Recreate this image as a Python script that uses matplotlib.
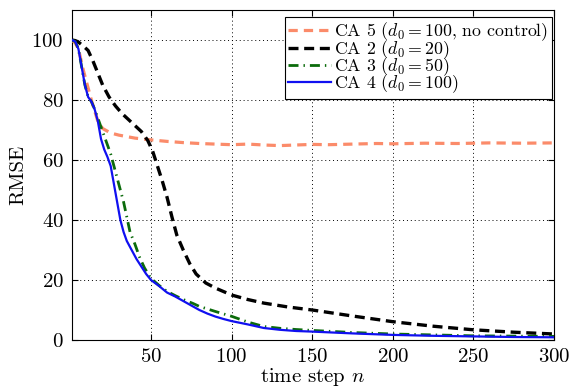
import matplotlib
matplotlib.use("Agg")
import matplotlib.pyplot as plt

plt.rcParams['font.family'] = ['cmr10', 'DejaVu Serif']
plt.rcParams['mathtext.fontset'] = 'cm'
plt.rcParams['axes.formatter.use_mathtext'] = True

# Data
n_ca5 = [1, 3, 5, 8, 10, 13, 15, 17, 20, 25, 30, 40, 50, 60, 70, 80, 90, 100, 110, 120, 130, 140, 150, 160, 175, 190, 200, 220, 240, 260, 280, 300]
y_ca5 = [100, 99, 97, 90, 86, 80, 76.5, 73, 70.5, 69, 68.3, 67.3, 66.7, 66.2, 65.8, 65.5, 65.3, 65.1, 65.3, 65.0, 64.8, 65.0, 65.2, 65.1, 65.3, 65.5, 65.4, 65.6, 65.5, 65.7, 65.6, 65.7]

n_ca2 = [1, 3, 5, 8, 11, 14, 17, 20, 24, 28, 32, 36, 40, 44, 48, 51, 54, 57, 60, 63, 66, 70, 74, 78, 84, 90, 100, 110, 120, 135, 150, 175, 200, 225, 250, 275, 300]
y_ca2 = [100, 99.8, 99.3, 98, 96.5, 93, 89, 85, 81, 78, 75.5, 73.5, 71.5, 69.5, 66.5, 63, 58, 53, 47.5, 41, 35, 30, 25.5, 22, 19, 17.3, 15, 13.5, 12.3, 11, 10, 8, 6.1, 4.6, 3.4, 2.6, 2.0]

n_ca3 = [1, 3, 5, 7, 9, 11, 13, 15, 17, 19, 21, 23, 25, 27, 29, 31, 33, 35, 37, 40, 43, 46, 50, 55, 60, 65, 70, 76, 80, 90, 100, 110, 120, 130, 140, 150, 175, 200, 225, 250, 275, 300]
y_ca3 = [100, 99.5, 97, 91, 85, 81, 79.5, 77, 74, 71, 68, 65, 62, 58, 54, 50, 46, 41, 36, 32, 27.5, 24, 20.5, 18.2, 16.2, 14.8, 13.5, 12.2, 11.2, 9.5, 7.9, 6.0, 4.5, 3.9, 3.5, 3.2, 2.5, 2.0, 1.7, 1.4, 1.3, 1.2]

n_ca4 = [1, 3, 5, 7, 9, 11, 13, 15, 17, 19, 21, 23, 25, 27, 29, 31, 33, 35, 38, 41, 44, 47, 50, 55, 60, 65, 70, 76, 80, 85, 90, 95, 100, 110, 120, 130, 140, 150, 175, 200, 225, 250, 275, 300]
y_ca4 = [100, 99.5, 97, 91, 85, 81, 79.5, 77, 73, 67, 63.5, 61, 58, 52, 46, 40, 36, 33, 30, 27, 24.5, 22, 20, 18, 15.8, 14.5, 13, 11.2, 10, 8.8, 7.8, 7, 6.3, 5.2, 4, 3.4, 3, 2.8, 2.2, 1.7, 1.4, 1.2, 1.0, 0.9]

labels = [r'CA 5 ($d_0 = 100$, no control)', r'CA 2 ($d_0 = 20$)',
          r'CA 3 ($d_0 = 50$)', r'CA 4 ($d_0 = 100$)']
xticks = [50, 100, 150, 200, 250, 300]
yticks = [0, 20, 40, 60, 80, 100]

fig = plt.figure(figsize=(5.72, 3.87), dpi=100)
ax = fig.add_axes([72/572, 47/387, (554-72)/572, (340-10)/387])

ax.plot(n_ca5, y_ca5, color='#FB8B6A', lw=2.3, dashes=(2.9, 1.9), label=labels[0], zorder=3)
ax.plot(n_ca2, y_ca2, color='black', lw=2.4, dashes=(3.0, 1.7), label=labels[1], zorder=4)
ax.plot(n_ca3, y_ca3, color='#0B6B0B', lw=2.0, dashes=(3.6, 1.8, 0.5, 1.8), label=labels[2], zorder=5)
ax.plot(n_ca4, y_ca4, color='#1010F0', lw=1.6, label=labels[3], zorder=6)

ax.set_xlim(1, 300)
ax.set_ylim(0, 110)
ax.set_xticks(xticks)
ax.set_yticks(yticks)
ax.tick_params(direction='in', top=True, right=True, length=4, width=0.8, labelsize=15, pad=6)
ax.grid(True, color='black', linestyle=(0, (1, 3)), linewidth=0.7)
for s in ax.spines.values():
    s.set_linewidth(0.8)

ax.set_xlabel(r'time step $n$', fontsize=15, labelpad=0)
ax.set_ylabel('RMSE', fontsize=15, labelpad=3)

leg = ax.legend(loc='upper right', bbox_to_anchor=(0.996, 0.979), fontsize=12.8,
                fancybox=False, edgecolor='black', framealpha=1, handlelength=2.4,
                handletextpad=0.2, labelspacing=-0.3, borderpad=0.2, borderaxespad=0)
leg.get_frame().set_linewidth(0.8)

fig.savefig('out.png', dpi=100)
